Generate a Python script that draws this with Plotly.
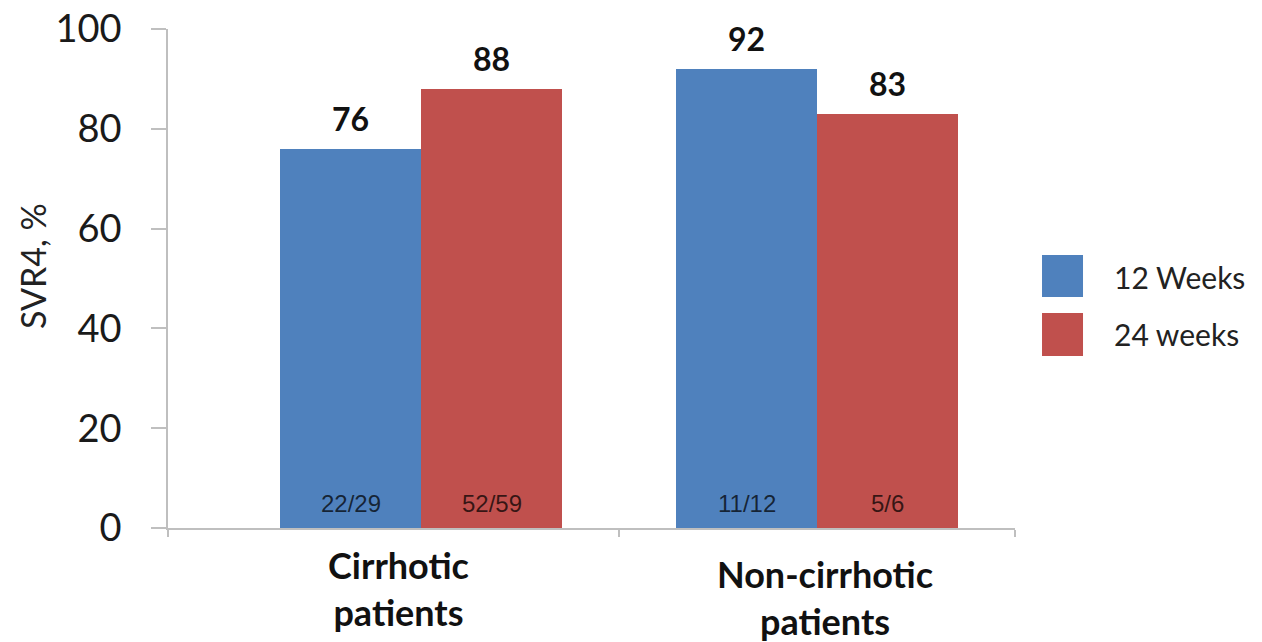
import plotly.graph_objects as go

# Data
categories = ["Cirrhotic<br>patients", "Non-cirrhotic<br>patients"]
series_names = ["12 Weeks", "24 weeks"]
svr_12wk = [76, 92]
svr_24wk = [88, 83]
counts_12wk = ["22/29", "11/12"]
counts_24wk = ["52/59", "5/6"]
y_ticks = [0, 20, 40, 60, 80, 100]

BLUE = "#4F81BD"
RED = "#C0504D"
AXIS_GREY = "#BFBFBF"
FONT = "Lato"

x_pos = list(range(len(categories)))
bar_w = 0.356

fig = go.Figure()
fig.add_trace(go.Bar(x=x_pos, y=svr_12wk, name=series_names[0], marker_color=BLUE,
                     marker_line_width=0, width=bar_w, offset=-bar_w))
fig.add_trace(go.Bar(x=x_pos, y=svr_24wk, name=series_names[1], marker_color=RED,
                     marker_line_width=0, width=bar_w, offset=0))

annotations = []
# value labels above bars and patient counts near the base
for vals, counts, shift in ((svr_12wk, counts_12wk, -bar_w / 2), (svr_24wk, counts_24wk, bar_w / 2)):
    for i, (v, c) in enumerate(zip(vals, counts)):
        annotations.append(dict(x=i + shift, y=v, xref="x", yref="y", text=f"<b>{v}</b>",
                                showarrow=False, yanchor="middle", yshift=30,
                                font=dict(family=FONT, size=32, color="#111111")))
        annotations.append(dict(x=i + shift, y=0, xref="x", yref="y", text=c,
                                showarrow=False, yanchor="middle", yshift=25,
                                font=dict(family="Liberation Sans", size=24, color="rgba(0,0,0,0.72)")))

# category labels under the axis
cat_offsets = [(-23, -60), (8, -69)]
for i, (cat, (dx, dy)) in enumerate(zip(categories, cat_offsets)):
    annotations.append(dict(x=i, y=0, xref="x", yref="y", text=f"<b>{cat}</b>",
                            showarrow=False, xanchor="center", yanchor="middle",
                            xshift=dx, yshift=dy, align="center",
                            font=dict(family=FONT, size=36, color="#111111")))

# y-axis title
annotations.append(dict(x=-0.1606, y=0.525, xref="paper", yref="paper", text="SVR4, %",
                        textangle=-90, showarrow=False, xanchor="center", yanchor="middle",
                        font=dict(family=FONT, size=34, color="#222222")))

# legend
legend_rows = [(series_names[0], BLUE, 0.4629, 0.5471, 0.503),
               (series_names[1], RED, 0.3447, 0.4309, 0.3888)]
shapes = []
for name, col, y0, y1, yc in legend_rows:
    shapes.append(dict(type="rect", xref="paper", yref="paper", x0=1.0319, x1=1.0803,
                       y0=y0, y1=y1, fillcolor=col, line_width=0))
    annotations.append(dict(x=1.1145, y=yc, xref="paper", yref="paper", text=name,
                            showarrow=False, xanchor="left", yanchor="middle",
                            font=dict(family=FONT, size=30, color="#222222")))

fig.update_layout(
    width=1262, height=642,
    margin=dict(l=168, r=247, t=29, b=114, autoexpand=False),
    paper_bgcolor="white", plot_bgcolor="white",
    showlegend=False,
    bargap=0, barmode="overlay",
    annotations=annotations, shapes=shapes,
    font=dict(family=FONT, color="#222222"),
)
fig.update_xaxes(range=[-0.639, 1.5], showgrid=False, zeroline=False, automargin=False,
                 showline=True, linecolor=AXIS_GREY, linewidth=1.5,
                 tickmode="array", tickvals=[-0.639, 0.5, 1.5], ticktext=["", "", ""],
                 ticks="outside", ticklen=7, tickwidth=1.5, tickcolor=AXIS_GREY)
fig.update_yaxes(range=[0, 100], showgrid=False, zeroline=False, automargin=False,
                 showline=True, linecolor=AXIS_GREY, linewidth=1.5,
                 tickmode="array", tickvals=y_ticks,
                 ticks="outside", ticklen=15, tickwidth=1.5, tickcolor=AXIS_GREY,
                 ticklabelstandoff=22,
                 tickfont=dict(family=FONT, size=38, color="#1a1a1a"))

fig.write_html("out.html")
